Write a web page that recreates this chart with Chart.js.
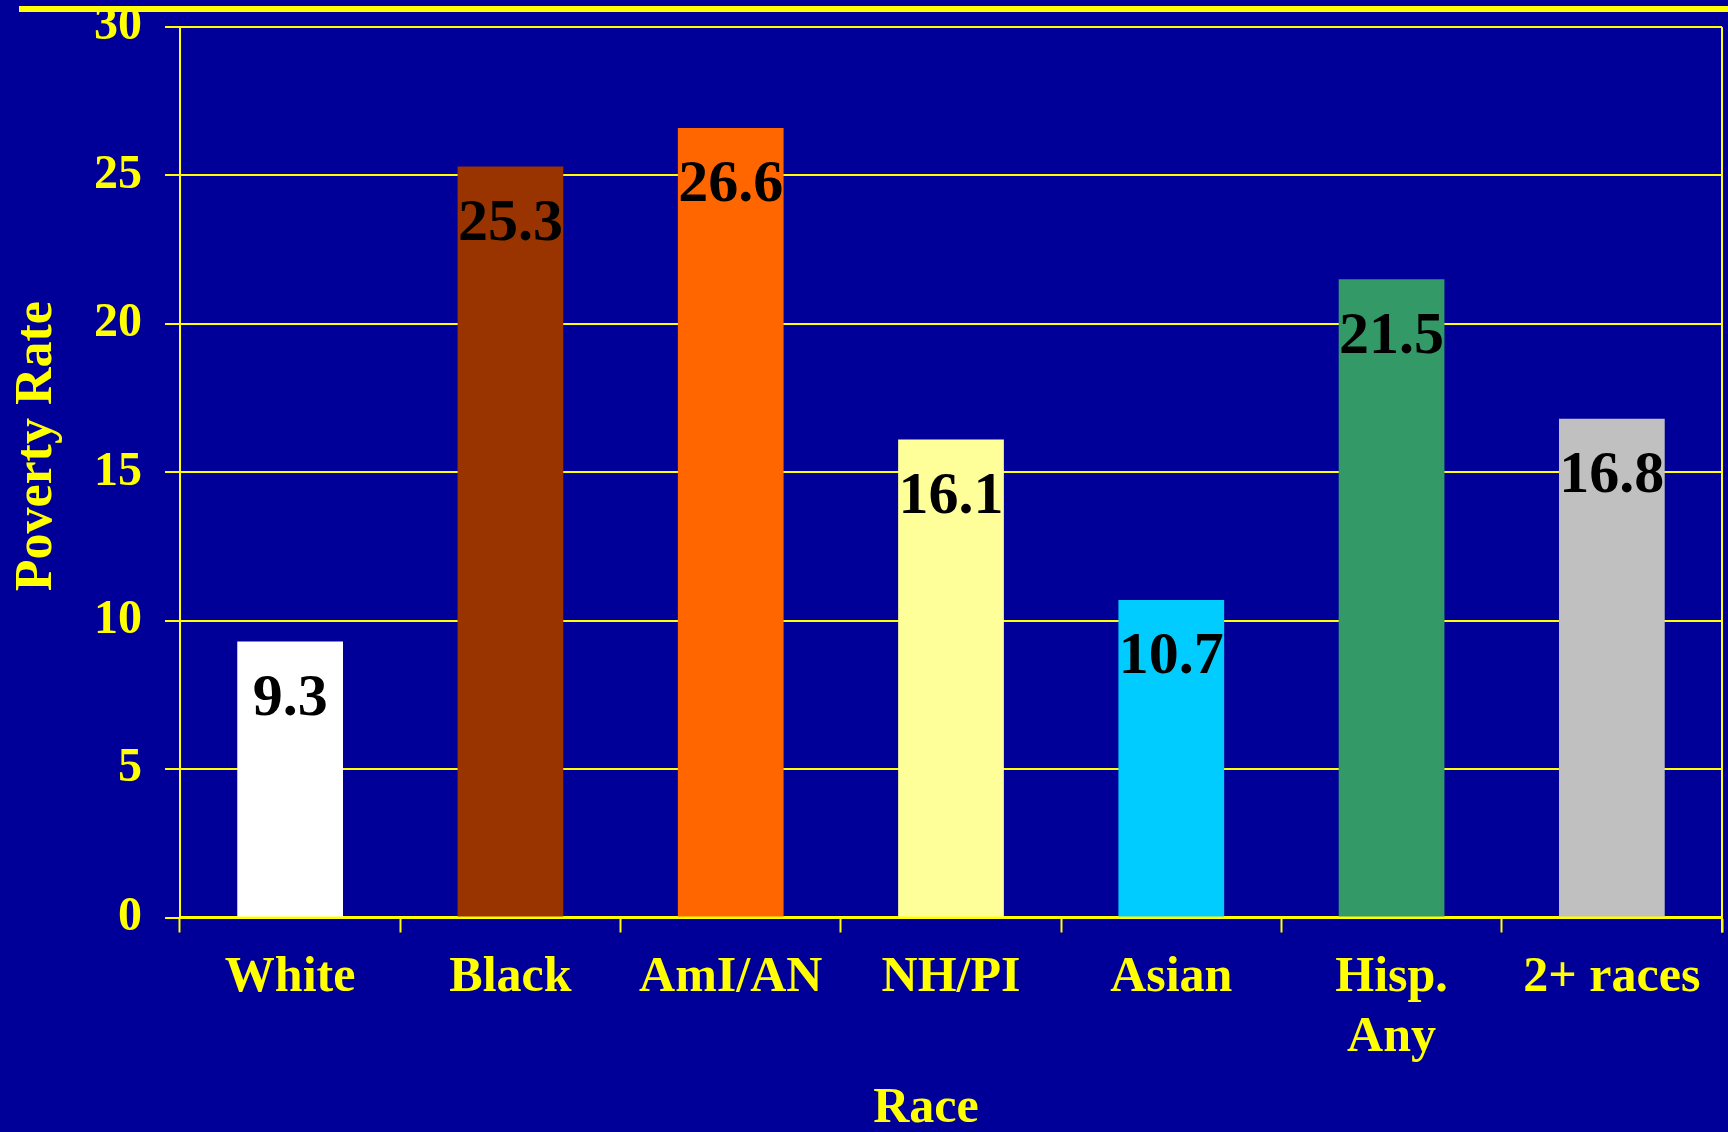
<!DOCTYPE html>
<html>
<head>
<meta charset="utf-8">
<title>Poverty Rate by Race</title>
<script src="https://cdn.jsdelivr.net/npm/chart.js@4.4.1/dist/chart.umd.min.js"></script>
<style>
  html, body { margin: 0; padding: 0; background: #000099; overflow: hidden; }
  #wrap { position: relative; width: 1728px; height: 1132px; }
  #topbar { position: absolute; left: 19px; top: 6px; width: 1709px; height: 6px; background: #ffff00; }
</style>
</head>
<body>
<div id="wrap">
  <div id="topbar"></div>
  <canvas id="chart" width="1728" height="1132"></canvas>
</div>
<script>
const categories = ['White', 'Black', 'AmI/AN', 'NH/PI', 'Asian', ['Hisp.', 'Any'], '2+ races'];
const rates = [9.3, 25.3, 26.6, 16.1, 10.7, 21.5, 16.8];
const barColors = ['#ffffff', '#993300', '#ff6600', '#ffff99', '#00ccff', '#339966', '#c0c0c0'];
const yTicks = [0, 5, 10, 15, 20, 25, 30];

const YELLOW = '#ffff00';
const SERIF = '"Liberation Serif", "Times New Roman", serif';

const ctx = document.getElementById('chart').getContext('2d');

// values printed inside the top of each bar
const barValues = {
  id: 'barValues',
  afterDatasetsDraw(chart) {
    const c = chart.ctx;
    const meta = chart.getDatasetMeta(0);
    c.save();
    c.fillStyle = '#000000';
    c.font = 'bold 60px ' + SERIF;
    c.textAlign = 'center';
    c.textBaseline = 'middle';
    meta.data.forEach(function(bar, i) {
      c.fillText(rates[i].toFixed(1), bar.x, bar.y + 58);
    });
    c.restore();
  }
};

// right edge of the plot frame
const frameRight = {
  id: 'frameRight',
  afterDraw(chart) {
    const a = chart.chartArea;
    const c = chart.ctx;
    c.save();
    c.strokeStyle = YELLOW;
    c.lineWidth = 2;
    c.beginPath();
    c.moveTo(a.right, a.top);
    c.lineTo(a.right, a.bottom + 15);
    c.stroke();
    c.restore();
  }
};

new Chart(ctx, {
  type: 'bar',
  data: {
    labels: categories,
    datasets: [{
      label: 'Poverty Rate',
      data: rates,
      backgroundColor: barColors,
      borderWidth: 0,
      barPercentage: 0.48,
      categoryPercentage: 1.0
    }]
  },
  options: {
    responsive: false,
    animation: false,
    layout: { padding: { top: 27, right: 6, left: 0, bottom: 0 } },
    plugins: {
      legend: { display: false },
      tooltip: { enabled: false }
    },
    scales: {
      x: {
        afterFit: function(scale) { scale.height = 214.5; },
        grid: {
          drawOnChartArea: false,
          drawTicks: true,
          tickLength: 15,
          tickColor: YELLOW,
          tickWidth: 2,
          color: YELLOW
        },
        border: { color: YELLOW, width: 3 },
        ticks: {
          color: YELLOW,
          font: { family: SERIF, size: 50, weight: 'bold', lineHeight: 1.2 },
          padding: 16,
          maxRotation: 0,
          autoSkip: false
        },
        title: {
          display: true,
          text: 'Race    ',
          color: YELLOW,
          font: { family: SERIF, size: 50, weight: 'bold', lineHeight: 0.9 },
          padding: 0
        }
      },
      y: {
        min: 0,
        max: 30,
        afterFit: function(scale) {
          scale.width = 180;
          // keep the tick padding from pushing the plot top down
          scale.paddingTop = 24;
          scale.paddingBottom = 24;
        },
        afterBuildTicks: function(scale) {
          scale.ticks = yTicks.map(function(v) { return { value: v }; });
        },
        grid: {
          color: YELLOW,
          lineWidth: 2,
          drawTicks: true,
          tickLength: 15
        },
        border: { color: YELLOW, width: 2 },
        ticks: {
          color: YELLOW,
          font: { family: SERIF, size: 48, weight: 'bold', lineHeight: 1 },
          padding: 23
        },
        title: {
          display: true,
          text: '    Poverty Rate',
          color: YELLOW,
          font: { family: SERIF, size: 52, weight: 'bold', lineHeight: 1.2 },
          padding: { top: 6, bottom: 0 }
        }
      }
    }
  },
  plugins: [barValues, frameRight]
});
</script>
</body>
</html>
